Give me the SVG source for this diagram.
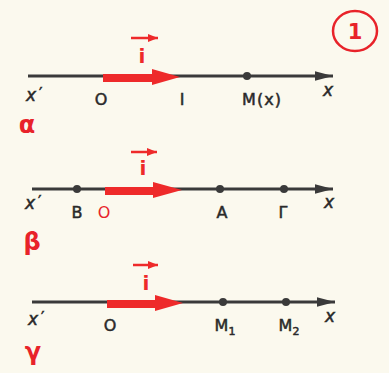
<svg xmlns="http://www.w3.org/2000/svg" width="389" height="373" viewBox="0 0 389 373">
<defs>
<style>
.axis{stroke:#3a3a3a;stroke-width:3;fill:none}
.dot{fill:#3a3a3a}
.vec{fill:#ee2a2a}
.lbl{font-family:"DejaVu Sans",sans-serif;font-size:16px;fill:#2a2a2a;stroke:#2a2a2a;stroke-width:0.5}
.xl{font-family:"DejaVu Sans",sans-serif;font-size:17px;font-style:italic;fill:#2a2a2a;stroke:#2a2a2a;stroke-width:0.5}
.pr{font-style:normal;font-size:15px}
.greek{font-family:"DejaVu Sans",sans-serif;font-size:24px;font-weight:bold;fill:#e8232a}
.ivec{font-family:"DejaVu Sans",sans-serif;font-size:20px;font-weight:bold;fill:#ee2a2a}
.small{stroke:#ee2a2a;stroke-width:2.5;fill:none}
</style>
<marker id="ah" viewBox="0 0 10 10" refX="10" refY="5" markerWidth="6" markerHeight="3.2" orient="auto" markerUnits="strokeWidth" preserveAspectRatio="none">
<path d="M0,0 L10,5 L0,10 z" fill="#3a3a3a"/>
</marker>
<marker id="sh" viewBox="0 0 10 10" refX="10" refY="5" markerWidth="4" markerHeight="3.2" orient="auto" markerUnits="strokeWidth" preserveAspectRatio="none">
<path d="M0,0 L10,5 L0,10 z" fill="#ee2a2a"/>
</marker>
</defs>
<rect width="389" height="373" fill="#fbf9ee"/>

<g id="badge">
<ellipse cx="355" cy="31" rx="22" ry="20" fill="none" stroke="#e8232a" stroke-width="2.5"/>
<text x="355" y="39" text-anchor="middle" font-family="DejaVu Sans,sans-serif" font-size="21" font-weight="bold" fill="#e8232a">1</text>
</g>

<g id="connectors">
<line class="axis" x1="28" y1="76" x2="333" y2="76" marker-end="url(#ah)"/>
<line class="axis" x1="32" y1="189" x2="333" y2="189" marker-end="url(#ah)"/>
<line class="axis" x1="32" y1="302" x2="335" y2="302" marker-end="url(#ah)"/>
</g>

<g id="diagram-a">
<path class="vec" d="M103,74 H152 V69 L180,77 L152,85 V82 H103 z"/>
<line class="small" x1="131" y1="38" x2="158" y2="38" marker-end="url(#sh)"/>
<text class="ivec" x="142" y="63" text-anchor="middle">i</text>
<circle class="dot" cx="247" cy="76" r="4"/>
<text class="xl" x="26" y="101">x<tspan class="pr" dx="3" dy="-2">′</tspan></text>
<text class="lbl" x="101" y="105" text-anchor="middle">O</text>
<text class="lbl" x="182" y="105" text-anchor="middle">I</text>
<text class="lbl" x="262" y="105" text-anchor="middle" letter-spacing="1">M(x)</text>
<text class="xl" x="328" y="96" text-anchor="middle">x</text>
<text class="greek" x="27" y="133" text-anchor="middle">α</text>
</g>

<g id="diagram-b">
<path class="vec" d="M105,187 H153 V182 L182,190 L153,198 V195 H105 z"/>
<line class="small" x1="131" y1="152" x2="157" y2="152" marker-end="url(#sh)"/>
<text class="ivec" x="143" y="175" text-anchor="middle">i</text>
<circle class="dot" cx="77" cy="189" r="4"/>
<circle class="dot" cx="220" cy="189" r="4"/>
<circle class="dot" cx="284" cy="189" r="4"/>
<text class="xl" x="25" y="209">x<tspan class="pr" dx="3" dy="-2">′</tspan></text>
<text class="lbl" x="77" y="218" text-anchor="middle">B</text>
<text x="104" y="218" text-anchor="middle" font-family="DejaVu Sans,sans-serif" font-size="16" fill="#e8232a">O</text>
<text class="lbl" x="222" y="218" text-anchor="middle">A</text>
<text class="lbl" x="283" y="218" text-anchor="middle">Γ</text>
<text class="xl" x="329" y="208" text-anchor="middle">x</text>
<text class="greek" x="32" y="250" text-anchor="middle">β</text>
</g>

<g id="diagram-g">
<path class="vec" d="M107,300 H155 V295 L183,303 L155,311 V308 H107 z"/>
<line class="small" x1="133" y1="265" x2="158" y2="265" marker-end="url(#sh)"/>
<text class="ivec" x="146" y="290" text-anchor="middle">i</text>
<circle class="dot" cx="223" cy="302" r="4"/>
<circle class="dot" cx="286" cy="302" r="4"/>
<text class="xl" x="28" y="325">x<tspan class="pr" dx="3" dy="-2">′</tspan></text>
<text class="lbl" x="110" y="331" text-anchor="middle">O</text>
<text class="lbl" x="225" y="331" text-anchor="middle">M<tspan font-size="11" dy="4">1</tspan></text>
<text class="lbl" x="289" y="331" text-anchor="middle">M<tspan font-size="11" dy="4">2</tspan></text>
<text class="xl" x="330" y="322" text-anchor="middle">x</text>
<text class="greek" x="33" y="360" text-anchor="middle">γ</text>
</g>
</svg>
